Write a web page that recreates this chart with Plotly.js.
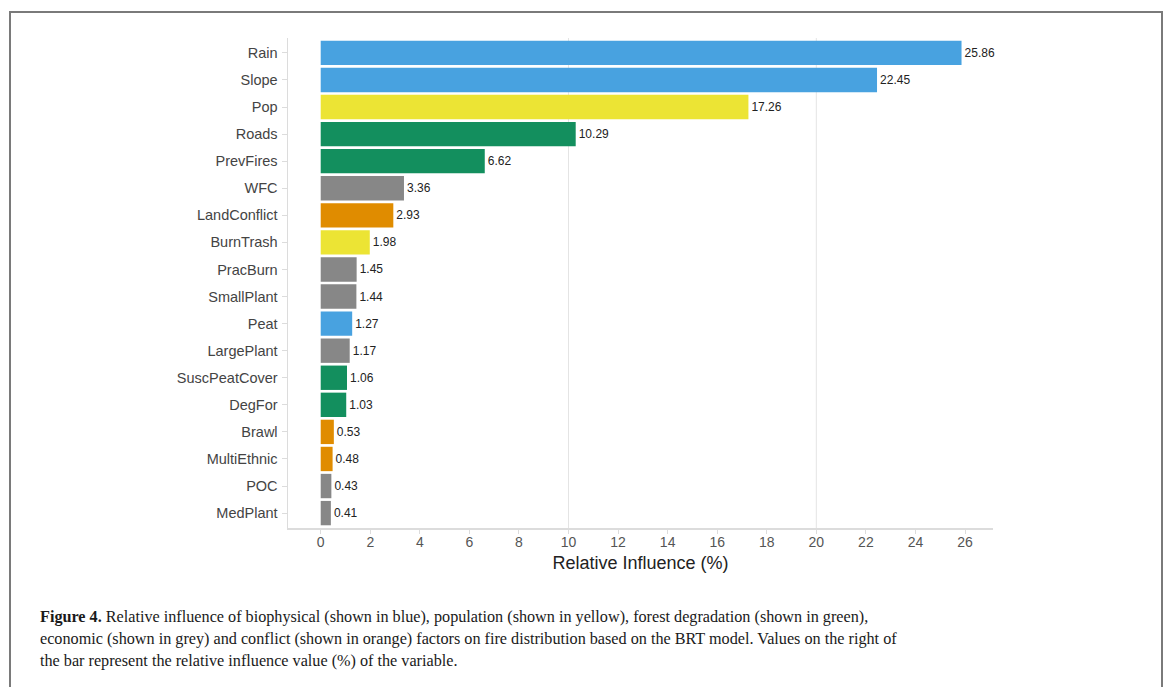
<!DOCTYPE html>
<html>
<head>
<meta charset="utf-8">
<script src="https://cdn.plot.ly/plotly-3.0.1.min.js"></script>
<style>
  html, body { margin: 0; padding: 0; background: #fff; }
  #wrap { position: relative; width: 1171px; height: 687px; overflow: hidden; }
  #frame { position: absolute; left: 9px; top: 11px; width: 1154px; height: 700px; border: 2px solid #7a7a7a; box-sizing: border-box; pointer-events: none; }
  #chart { position: absolute; left: 0; top: 0; width: 1171px; height: 687px; }
</style>
</head>
<body>
<div id="wrap">
  <div id="chart"></div>
  <div id="frame"></div>
</div>
<script>
// ---- data ----
const categories = ["Rain", "Slope", "Pop", "Roads", "PrevFires", "WFC", "LandConflict", "BurnTrash",
  "PracBurn", "SmallPlant", "Peat", "LargePlant", "SuscPeatCover", "DegFor", "Brawl", "MultiEthnic", "POC", "MedPlant"];
const values = [25.86, 22.45, 17.26, 10.29, 6.62, 3.36, 2.93, 1.98, 1.45, 1.44, 1.27, 1.17, 1.06, 1.03, 0.53, 0.48, 0.43, 0.41];
const groups = ["biophysical", "biophysical", "population", "degradation", "degradation", "economic", "conflict", "population",
  "economic", "economic", "biophysical", "economic", "degradation", "degradation", "conflict", "conflict", "economic", "economic"];
const xTicks = [0, 2, 4, 6, 8, 10, 12, 14, 16, 18, 20, 22, 24, 26];
const gridAt = [10, 20];
const xTitle = "Relative Influence (%)";
const captionLines = [
  "<b>Figure 4.</b> Relative influence of biophysical (shown in blue), population (shown in yellow), forest degradation (shown in green),",
  "economic (shown in grey) and conflict (shown in orange) factors on fire distribution based on the BRT model. Values on the right of",
  "the bar represent the relative influence value (%) of the variable."
];

// ---- styles ----
const groupColors = {
  biophysical: "#48a2e0",
  population: "#ece434",
  degradation: "#138f5e",
  economic: "#878787",
  conflict: "#e08c00"
};

const W = 1171, H = 687;
const plotL = 288, plotR = 993, plotT = 38, plotB = 528;

const trace = {
  type: "bar",
  orientation: "h",
  y: categories,
  x: values,
  marker: { color: groups.map(g => groupColors[g]), line: { width: 0 } },
  width: 0.9,
  text: values.map(v => v.toFixed(2)),
  textposition: "outside",
  textfont: { family: "Liberation Sans, Arial, sans-serif", size: 12, color: "#222" },
  cliponaxis: false,
  hoverinfo: "none"
};

const shapes = gridAt.map(v => ({
  type: "line", xref: "x", yref: "paper", x0: v, x1: v, y0: 0, y1: 1,
  line: { color: "#e4e4e4", width: 1 }, layer: "below"
}));

const pxToPaperY = py => (plotB - py) / (plotB - plotT);
const pxToPaperX = px => (px - plotL) / (plotR - plotL);

const annotations = captionLines.map((t, i) => ({
  text: t,
  xref: "paper", yref: "paper",
  x: pxToPaperX(38), y: pxToPaperY(617 + i * 22),
  xanchor: "left", yanchor: "middle",
  showarrow: false, align: "left",
  font: { family: "Liberation Serif, Times New Roman, serif", size: 16.2, color: "#1a1a1a" }
}));

const layout = {
  width: W, height: H,
  margin: { l: plotL, r: W - plotR, t: plotT, b: H - plotB, pad: 0 },
  paper_bgcolor: "#ffffff",
  plot_bgcolor: "#ffffff",
  showlegend: false,
  bargap: 0.1,
  font: { family: "Liberation Sans, Arial, sans-serif" },
  xaxis: {
    range: [-1.32, 27.13],
    tickmode: "array", tickvals: xTicks, ticktext: xTicks.map(String),
    ticks: "outside", ticklen: 4, tickcolor: "#dcdcdc", tickwidth: 1,
    showline: true, linecolor: "#dcdcdc", linewidth: 1.5,
    showgrid: false, zeroline: false,
    ticklabelstandoff: -3,
    tickfont: { size: 14, color: "#555" },
    title: { text: xTitle, font: { size: 18, color: "#222" }, standoff: 7 }
  },
  yaxis: {
    type: "category",
    categoryorder: "array", categoryarray: categories,
    range: [categories.length - 0.45, -0.55],
    ticks: "outside", ticklen: 5, tickcolor: "#dcdcdc", tickwidth: 1,
    showline: true, linecolor: "#dcdcdc", linewidth: 1.5,
    showgrid: false, zeroline: false,
    ticklabelstandoff: 1,
    tickfont: { size: 14.5, color: "#444" }
  },
  shapes: shapes,
  annotations: annotations
};

Plotly.newPlot("chart", [trace], layout, { displayModeBar: false, staticPlot: true });
</script>
</body>
</html>
